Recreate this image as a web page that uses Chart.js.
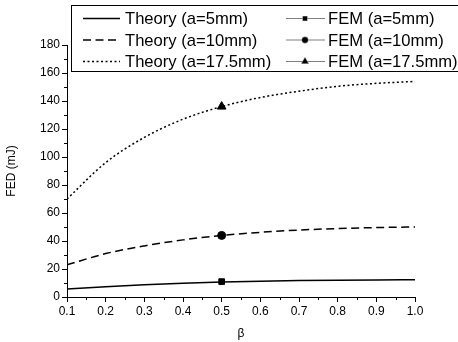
<!DOCTYPE html>
<html>
<head>
<meta charset="utf-8">
<script src="https://cdn.jsdelivr.net/npm/chart.js@4/dist/chart.umd.min.js"></script>
<style>
  html, body { margin: 0; padding: 0; background: #fff; }
  #wrap { width: 458px; height: 342px; position: relative; }
</style>
</head>
<body>
<div id="wrap"><canvas id="fedChart" width="458" height="342"></canvas></div>
<script>
// beta values and theoretical FED (mJ) for each crack size
const beta = [0.1, 0.2, 0.3, 0.4, 0.5, 0.6, 0.7, 0.8, 0.9, 1.0];
const theory5 = [5.7, 7.4, 8.7, 9.8, 10.7, 11.3, 11.7, 12.0, 12.2, 12.3];
const theory10 = [23, 31, 36.5, 40.8, 44, 46.2, 47.8, 48.9, 49.6, 50];
const theory175 = [70, 96, 114, 127, 136, 142.5, 147, 150.5, 152.6, 154];

// FEM results at beta = 0.5
const femBeta = [0.5];
const fem5 = [11];
const fem10 = [44];
const fem175 = [136];

const legendLabels = [
    "Theory (a=5mm)", "Theory (a=10mm)", "Theory (a=17.5mm)",
    "FEM (a=5mm)", "FEM (a=10mm)", "FEM (a=17.5mm)"
];

const FONT = "Arial, 'Liberation Sans', sans-serif";

function toPoints(xs, ys) {
    return xs.map((x, i) => ({ x: x, y: ys[i] }));
}

function theoryLine(label, ys, dash) {
    return {
        label: label,
        data: toPoints(beta, ys),
        borderColor: "#000",
        borderWidth: 1.5,
        borderDash: dash,
        pointRadius: 0,
        cubicInterpolationMode: "monotone",
        showLine: true,
        fill: false
    };
}

function femPoint(label, ys, style, r) {
    return {
        label: label,
        data: toPoints(femBeta, ys),
        borderColor: "#000",
        backgroundColor: "#000",
        pointStyle: style,
        pointRadius: r,
        pointBorderWidth: 1,
        showLine: false
    };
}

// minor ticks halfway between the labelled ones
const minorTicks = {
    id: "minorTicks",
    afterDraw(chart) {
        const ctx = chart.ctx;
        const xs = chart.scales.x, ys = chart.scales.y;
        ctx.save();
        ctx.strokeStyle = "#000";
        ctx.lineWidth = 1;
        ctx.beginPath();
        for (let v = 10; v < 180; v += 20) {
            const py = Math.round(ys.getPixelForValue(v)) + 0.5;
            ctx.moveTo(xs.left - 3, py);
            ctx.lineTo(xs.left, py);
        }
        for (let v = 0.15; v < 1.0; v += 0.1) {
            const px = Math.round(xs.getPixelForValue(v)) + 0.5;
            ctx.moveTo(px, ys.bottom);
            ctx.lineTo(px, ys.bottom + 3);
        }
        ctx.stroke();
        ctx.restore();
    }
};

// boxed legend sitting over the top of the plot
const boxLegend = {
    id: "boxLegend",
    afterDraw(chart) {
        const ctx = chart.ctx;
        const ds = chart.data.datasets;
        const rows = [18.5, 40, 61.5];
        ctx.save();
        ctx.fillStyle = "#fff";
        ctx.fillRect(71, 5, 400, 66.5);
        ctx.strokeStyle = "#000";
        ctx.lineWidth = 1;
        ctx.strokeRect(71.5, 5.5, 400, 66);

        ctx.font = "16.6px " + FONT;
        ctx.textBaseline = "middle";
        ctx.fillStyle = "#000";

        for (let i = 0; i < 3; i++) {
            const y = rows[i];
            // theory sample
            ctx.strokeStyle = "#000";
            ctx.lineWidth = 1.5;
            ctx.setLineDash(ds[i].borderDash || []);
            ctx.beginPath();
            ctx.moveTo(83, y);
            ctx.lineTo(120, y);
            ctx.stroke();
            ctx.setLineDash([]);
            ctx.fillText(legendLabels[i], 125, y + 1);

            // FEM sample
            ctx.strokeStyle = "#808080";
            ctx.lineWidth = 1.2;
            ctx.beginPath();
            ctx.moveTo(286, y);
            ctx.lineTo(325, y);
            ctx.stroke();
            const f = ds[i + 3];
            Chart.helpers.drawPoint(ctx, {
                pointStyle: f.pointStyle,
                radius: f.pointRadius * 0.7,
                borderWidth: 1,
                rotation: 0
            }, 305, y);
            ctx.fillStyle = "#000";
            ctx.fill();
            ctx.fillText(legendLabels[i + 3], 328, y + 1);
        }
        ctx.restore();
    }
};

const ctx = document.getElementById("fedChart").getContext("2d");
const fedChart = new Chart(ctx, {
    type: "scatter",
    data: {
        datasets: [
            theoryLine(legendLabels[0], theory5, []),
            theoryLine(legendLabels[1], theory10, [8, 4.5]),
            theoryLine(legendLabels[2], theory175, [2, 2.5]),
            femPoint(legendLabels[3], fem5, "rect", 4),
            femPoint(legendLabels[4], fem10, "circle", 4),
            femPoint(legendLabels[5], fem175, "triangle", 5)
        ]
    },
    options: {
        responsive: false,
        animation: false,
        layout: { padding: { top: 45, right: 43, bottom: 0, left: 0 } },
        plugins: {
            legend: { display: false },
            tooltip: { enabled: false }
        },
        scales: {
            x: {
                type: "linear",
                min: 0.1,
                max: 1.0,
                border: { color: "#000", width: 1 },
                grid: { drawOnChartArea: false, color: "#000", tickLength: 5 },
                ticks: {
                    stepSize: 0.1,
                    color: "#000",
                    font: { family: FONT, size: 12 },
                    padding: 2,
                    maxRotation: 0,
                    callback: v => v.toFixed(1)
                },
                title: {
                    display: true,
                    text: "β",
                    color: "#000",
                    font: { family: FONT, size: 12 },
                    padding: { top: 4, bottom: 1 }
                },
                afterFit(scale) { scale.height = 45; }
            },
            y: {
                min: 0,
                max: 180,
                border: { color: "#000", width: 1 },
                grid: { drawOnChartArea: false, color: "#000", tickLength: 5 },
                ticks: {
                    stepSize: 20,
                    color: "#000",
                    font: { family: FONT, size: 12 },
                    padding: 2
                },
                title: {
                    display: true,
                    text: "FED (mJ)",
                    color: "#000",
                    font: { family: FONT, size: 12 },
                    padding: 4
                },
                afterFit(scale) { scale.width = 67; }
            }
        }
    },
    plugins: [minorTicks, boxLegend]
});
</script>
</body>
</html>
